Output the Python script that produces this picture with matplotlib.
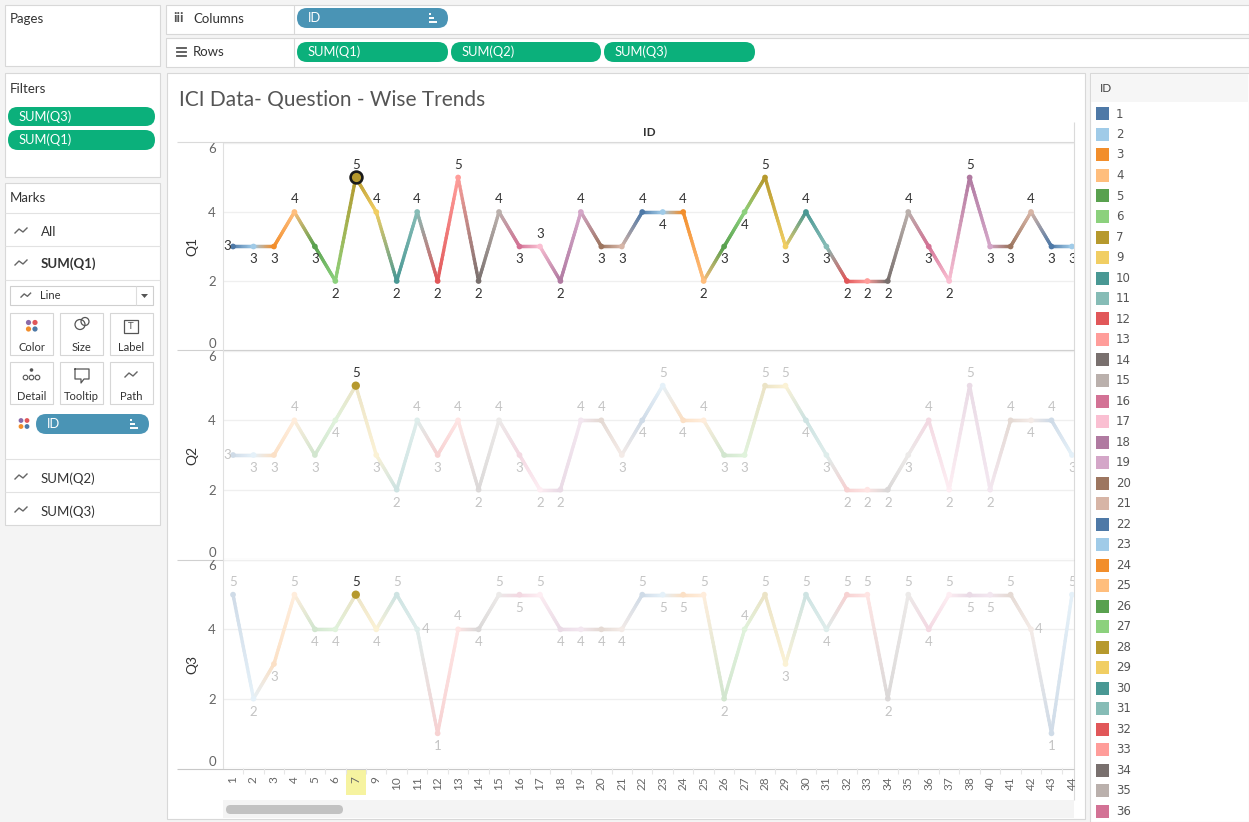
import numpy as np
import matplotlib
matplotlib.use("Agg")
import matplotlib.pyplot as plt
from matplotlib.patches import Rectangle, FancyBboxPatch, Circle, Polygon
from matplotlib.collections import LineCollection
from matplotlib.colors import to_rgb

# ---------------- data ----------------
ids = [1, 2, 3, 4, 5, 6, 7, 9, 10, 11, 12, 13, 14, 15, 16, 17, 18, 19, 20, 21,
       22, 23, 24, 25, 26, 27, 28, 29, 30, 31, 32, 33, 34, 35, 36, 37, 38, 40,
       41, 42, 43, 44]
q1 = [3, 3, 3, 4, 3, 2, 5, 4, 2, 4, 2, 5, 2, 4, 3, 3, 2, 4, 3, 3,
      4, 4, 4, 2, 3, 4, 5, 3, 4, 3, 2, 2, 2, 4, 3, 2, 5, 3, 3, 4, 3, 3]
q2 = [3, 3, 3, 4, 3, 4, 5, 3, 2, 4, 3, 4, 2, 4, 3, 2, 2, 4, 4, 3,
      4, 5, 4, 4, 3, 3, 5, 5, 4, 3, 2, 2, 2, 3, 4, 2, 5, 2, 4, 4, 4, 3]
q3 = [5, 2, 3, 5, 4, 4, 5, 4, 5, 4, 1, 4, 4, 5, 5, 5, 4, 4, 4, 4,
      5, 5, 5, 5, 2, 4, 5, 3, 5, 4, 5, 5, 2, 5, 4, 5, 5, 5, 5, 4, 1, 5]
questions = ["Q1", "Q2", "Q3"]
selected_id = 7
legend_ids = ids[:35]
y_ticks = [0, 2, 4, 6]

palette = ["#4E79A7", "#A0CBE8", "#F28E2B", "#FFBE7D", "#59A14F", "#8CD17D",
           "#B6992D", "#F1CE63", "#499894", "#86BCB6", "#E15759", "#FF9D9A",
           "#79706E", "#BAB0AC", "#D37295", "#FABFD2", "#B07AA1", "#D4A6C8",
           "#9D7660", "#D7B5A6"]

UI_FONT = ["Lato", "DejaVu Sans"]
W, H = 1249, 822

fig = plt.figure(figsize=(W / 100, H / 100), dpi=100, facecolor="#f4f4f4")
bg = fig.add_axes([0, 0, 1, 1])
bg.set_xlim(0, W)
bg.set_ylim(H, 0)
bg.axis("off")


def panel(x0, y0, x1, y1, fc="white", ec="#d8d8d8"):
    bg.add_patch(Rectangle((x0, y0), x1 - x0, y1 - y0, fc=fc, ec=ec, lw=0.8))


def hline(y, x0, x1, color="#e2e2e2", lw=0.8):
    bg.plot([x0, x1], [y, y], color=color, lw=lw, solid_capstyle="butt")


def vline(x, y0, y1, color="#e2e2e2", lw=0.8):
    bg.plot([x, x], [y0, y1], color=color, lw=lw, solid_capstyle="butt")


def text(x, y, s, size=9, color="#333333", ha="left", weight="normal", family=None):
    bg.text(x, y, s, fontsize=size, color=color, ha=ha, va="center",
            fontweight=weight, family=family or UI_FONT)


def sort_icon(x, y, color="white"):
    for dy, w in [(-4, 2.5), (0, 5), (4, 8)]:
        bg.plot([x, x + w], [y + dy, y + dy], color=color, lw=1.4, solid_capstyle="butt")


def pill(x0, y0, x1, y1, fc, label, icon=False):
    h = y1 - y0
    bg.add_patch(FancyBboxPatch((x0, y0), x1 - x0, h,
                                boxstyle=f"round,pad=0,rounding_size={h / 2}",
                                fc=fc, ec="none"))
    text(x0 + 11, (y0 + y1) / 2, label, size=9.3, color="white")
    if icon:
        sort_icon(x1 - 19, (y0 + y1) / 2)


def line_icon(x, y, color="#666666", s=1.0):
    bg.plot([x, x + 4 * s, x + 8 * s, x + 12 * s],
            [y + 2 * s, y - 2 * s, y + 1 * s, y - 3 * s], color=color, lw=1.0)


def color_dots(x, y, r=2.6, gap=6.5):
    for (dx, dy), c in zip([(0, 0), (gap, 0), (0, gap), (gap, gap)],
                           ["#8a6aa8", "#e15759", "#f28e2b", "#4e79a7"]):
        bg.add_patch(Circle((x + dx, y + dy), r, fc=c, ec="none"))


# ---------------- workspace panels ----------------
panel(5, 5, 160, 66)
text(10, 19, "Pages", size=9.5)

panel(166, 5, 1249, 34)
vline(294, 5, 34, color="#d8d8d8")
text(173, 18, "iii", size=10, weight="bold", color="#555555")
text(193, 19, "Columns", size=9.5)
pill(297, 8, 448, 28, "#4a94b5", "ID", icon=True)

panel(166, 38, 1249, 67)
vline(294, 38, 67, color="#d8d8d8")
for dy in (-4, 0, 4):
    bg.plot([177, 186], [52 + dy, 52 + dy], color="#555555", lw=1.3)
text(193, 52, "Rows", size=9.5)
for (a, b), lab in zip([(297, 448), (451, 601), (604, 755)], ["SUM(Q1)", "SUM(Q2)", "SUM(Q3)"]):
    pill(a, 42, b, 62, "#0bb07b", lab)

panel(5, 73, 160, 177)
text(10, 89, "Filters", size=9.5)
pill(8, 107, 155, 126, "#0bb07b", "SUM(Q3)")
pill(8, 130, 155, 150, "#0bb07b", "SUM(Q1)")

panel(5, 183, 160, 525)
text(10, 198, "Marks", size=9.5)
for yy in (213, 246, 280, 459, 492):
    hline(yy, 5, 160)
line_icon(15, 231)
text(41, 232, "All", size=9.5)
line_icon(15, 263)
text(41, 264, "SUM(Q1)", size=9.5, weight="bold")
bg.add_patch(Rectangle((10, 286), 143, 19, fc="white", ec="#cfcfcf", lw=0.8))
line_icon(21, 295.5, s=0.8)
text(40, 295.5, "Line", size=8)
vline(136, 286, 305, color="#dddddd")
bg.add_patch(Polygon([[141, 294], [148, 294], [144.5, 298]], closed=True, fc="#555555", ec="none"))

btn_cols = [(10, 53), (60, 103), (110, 153)]
btn_rows = [(313, 355), (362, 404)]
btn_labels = [["Color", "Size", "Label"], ["Detail", "Tooltip", "Path"]]
for r, (y0, y1) in enumerate(btn_rows):
    for c, (x0, x1) in enumerate(btn_cols):
        bg.add_patch(Rectangle((x0, y0), x1 - x0, y1 - y0, fc="white", ec="#d6d6d6", lw=0.8))
        text((x0 + x1) / 2, y0 + 34, btn_labels[r][c], size=8, ha="center")
# button glyphs
color_dots(28.5, 322.5)
bg.add_patch(Circle((80, 324.5), 5, fc="none", ec="#555555", lw=0.9))
bg.add_patch(Circle((85, 321.5), 4, fc="none", ec="#555555", lw=0.9))
bg.add_patch(Rectangle((124, 320), 14, 13, fc="none", ec="#555555", lw=0.9))
text(131, 326.5, "T", size=7, ha="center", color="#555555")
bg.add_patch(Circle((31.5, 370), 1.8, fc="#555555", ec="none"))
for dx in (-6, 0, 6):
    bg.add_patch(Circle((31.5 + dx, 377.5), 2.3, fc="none", ec="#555555", lw=0.8))
bg.plot([75, 89, 89, 84, 81, 81, 75, 75], [369, 369, 379, 379, 383, 379, 379, 369],
        color="#555555", lw=0.9)
line_icon(125, 375)
color_dots(21, 420.5, r=2.4, gap=6)
pill(36, 414, 149, 434, "#4a94b5", "ID", icon=True)
line_icon(15, 477)
text(41, 479, "SUM(Q2)", size=9.5)
line_icon(15, 510)
text(41, 512, "SUM(Q3)", size=9.5)

# view card
panel(167, 73, 1085, 819)
text(179, 100, "ICI Data- Question - Wise Trends", size=15, color="#555555")
text(649, 133, "ID", size=8.5, ha="center", weight="bold")
hline(142.5, 177, 1074, color="#dadada")
vline(1074.5, 122, 800, color="#dadada")
hline(350.5, 177, 1074, color="#d0d0d0")
hline(559.5, 177, 1074, color="#d0d0d0")
hline(768.5, 177, 1074, color="#c8c8c8")

# scroll bar
bg.add_patch(Rectangle((223, 800), 851, 18, fc="#f4f4f4", ec="none"))
bg.add_patch(FancyBboxPatch((226, 805), 117, 9, boxstyle="round,pad=0,rounding_size=4.5",
                            fc="#c2c2c2", ec="none"))

# legend card
panel(1090, 73, 1249, 822)
bg.add_patch(Rectangle((1091, 74), 157, 28, fc="#f6f6f6", ec="none"))
text(1100, 89, "ID", size=8.5, color="#444444")

id_color = {i: palette[k % len(palette)] for k, i in enumerate(ids)}
for j, i in enumerate(legend_ids):
    yy = 114 + j * 20.5
    bg.add_patch(Rectangle((1096, yy - 6.5), 13, 13, fc=id_color[i], ec="none"))
    text(1116, yy, str(i), size=8.5, color="#555555", family=["DejaVu Sans"])

# highlighted column header
sel_idx = ids.index(selected_id)
x_unit = 851 / 41.59
bg.add_patch(Rectangle((233 + sel_idx * x_unit - 10, 770), 20, 25, fc="#f6f3a0", ec="none"))


# ---------------- chart panes ----------------
def blend(c, a):
    c = np.array(to_rgb(c))
    return tuple(c * a + np.ones(3) * (1 - a))


def gradient_segments(xs, ys, cols, n=24):
    segs, sc = [], []
    for i in range(len(xs) - 1):
        c0, c1 = np.array(cols[i]), np.array(cols[i + 1])
        t = np.linspace(0, 1, n + 1)
        px = xs[i] + (xs[i + 1] - xs[i]) * t
        py = ys[i] + (ys[i + 1] - ys[i]) * t
        for k in range(n):
            segs.append([(px[k], py[k]), (px[k + 1], py[k + 1])])
            sc.append(tuple(c0 + (c1 - c0) * (k + 0.5) / n))
    return segs, sc


def placement(vals, i):
    v = vals[i]
    if i == 0:
        nxt = vals[1]
        return "left" if nxt == v else ("above" if nxt < v else "below")
    if i == len(vals) - 1:
        return "above" if vals[i - 1] < v else "below"
    prv, nxt = vals[i - 1], vals[i + 1]
    if prv + nxt - 2 * v < 0:
        return "right" if (prv > v and nxt - v <= -3) else "above"
    return "below"


label_style = {
    "above": ((0, 5), "center", "bottom"),
    "below": ((0, -5), "center", "top"),
    "left": ((-1.5, 0), "right", "center"),
    "right": ((3, 0), "left", "center"),
}

panes = [(143, 350), (351, 559), (560, 768)]
xs = np.arange(len(ids))
full_cols = [to_rgb(id_color[i]) for i in ids]

for k, (q, vals, (top, bot)) in enumerate(zip(questions, [q1, q2, q3], panes)):
    ax = fig.add_axes([223 / W, 1 - bot / H, 851 / W, (bot - top) / H])
    ax.set_facecolor("none")
    ax.set_xlim(-0.49, 41.1)
    ax.set_ylim(0, 6)
    faded = k > 0
    cols = [blend(c, 0.27) if faded else c for c in full_cols]

    segs, sc = gradient_segments(xs, vals, cols)
    ax.add_collection(LineCollection(segs, colors=sc, linewidths=2.4,
                                     capstyle="round", zorder=2))
    ax.scatter(xs, vals, s=17, c=cols, edgecolors="none", zorder=3)
    if faded:
        ax.scatter([sel_idx], [vals[sel_idx]], s=36, c=[full_cols[sel_idx]],
                   edgecolors="none", zorder=4)
    else:
        ax.scatter([sel_idx], [vals[sel_idx]], s=72, c=[full_cols[sel_idx]],
                   edgecolors="#1a1a1a", linewidths=1.9, zorder=4)

    for i, v in enumerate(vals):
        off, ha, va = label_style[placement(vals, i)]
        col = "#333333" if (not faded or ids[i] == selected_id) else "#c4c4c4"
        ax.annotate(str(v), (xs[i], v), xytext=off, textcoords="offset points",
                    ha=ha, va=va, fontsize=9.5, color=col, family=UI_FONT,
                    zorder=5, annotation_clip=True, clip_on=True)

    ax.set_yticks(y_ticks)
    ax.tick_params(axis="y", length=0, pad=5, labelsize=9.5, labelcolor="#666666")
    ylabels = ax.get_yticklabels()
    for lab in ylabels:
        lab.set_family(UI_FONT)
    # edge tick labels sit inside the pane
    ylabels[0].set_va("bottom")
    ylabels[-1].set_va("top")
    ax.grid(axis="y", color="#efefef", lw=0.9)
    ax.set_axisbelow(True)
    for side in ("top", "right", "bottom"):
        ax.spines[side].set_visible(False)
    ax.spines["left"].set_color("#e0e0e0")
    ax.spines["left"].set_linewidth(0.8)
    ax.set_ylabel(q, fontsize=10, color="#333333", family=UI_FONT)
    ax.yaxis.set_label_coords(-25 / 851, 0.5)

    if k < 2:
        ax.set_xticks([])
    else:
        ax.set_xticks(xs, labels=[str(i) for i in ids], rotation=90,
                      fontsize=8.5, color="#666666", family=UI_FONT)
        ax.tick_params(axis="x", length=0, pad=6)
        ax.set_xticks(xs[:-1] + 0.5, minor=True)
        ax.tick_params(axis="x", which="minor", length=4, color="#e6e6e6", width=0.8)

fig.savefig("out.png", dpi=100, facecolor=fig.get_facecolor())
